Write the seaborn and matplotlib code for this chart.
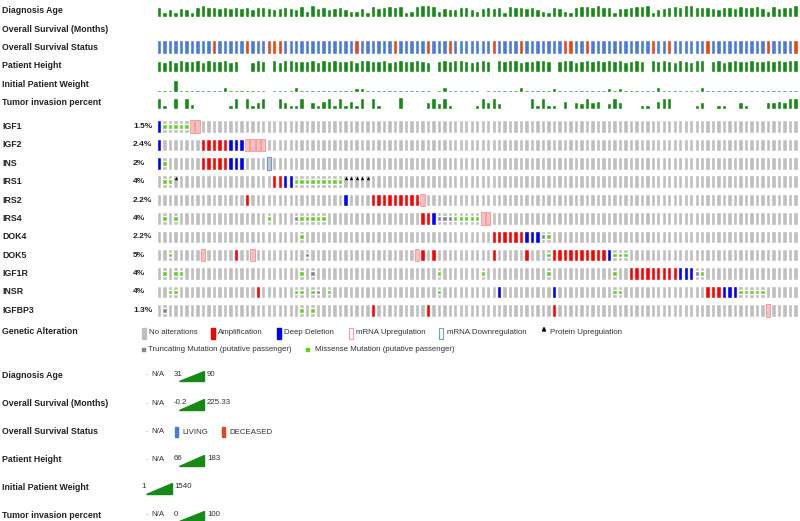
import numpy as np
import pandas as pd
import seaborn as sns
import matplotlib.pyplot as plt
from matplotlib.patches import Polygon, Rectangle

nan = np.nan
N = 117  # samples (columns)

genes = ['IGF1', 'IGF2', 'INS', 'IRS1', 'IRS2', 'IRS4', 'DOK4', 'DOK5', 'IGF1R', 'INSR', 'IGFBP3']
freqs = ['1.5%', '2.4%', '2%', '4%', '2.2%', '4%', '2.2%', '5%', '4%', '4%', '1.3%']

# alteration columns per gene
amp = {
    'IGF2': [8, 9, 10, 11, 12],
    'INS': [8, 9, 10, 11, 12],
    'IRS1': [21, 22],
    'IRS2': [16, 39, 40, 41, 42, 43, 44, 45, 46, 47],
    'IRS4': [48, 49],
    'DOK4': [61, 62, 63, 64, 65, 66],
    'DOK5': [14, 48, 50, 61, 67, 72, 73, 74, 75, 76, 77, 78, 79, 80, 81],
    'IGF1R': [86, 87, 88, 89, 90, 91, 92, 93, 94],
    'INSR': [18, 100, 101, 102],
    'IGFBP3': [39, 49, 72],
}
homdel = {
    'IGF1': [0],
    'IGF2': [0, 13, 14, 15],
    'INS': [0, 13, 14, 15],
    'IRS1': [23, 24],
    'IRS2': [34],
    'IRS4': [50],
    'DOK4': [67, 68, 69],
    'DOK5': [82],
    'IGF1R': [95, 96, 97],
    'INSR': [62, 72, 103, 104, 105],
}
mrna_up = {
    'IGF1': [6, 7],
    'IGF2': [16, 17, 18, 19],
    'IRS2': [48],
    'IRS4': [59, 60],
    'DOK5': [8, 17, 47],
    'IGFBP3': [111],
}
mrna_down = {'INS': [20]}
prot_up = {'IRS1': [3, 34, 35, 36, 37, 38]}
missense = {
    'IGF1': [1, 2, 3, 4, 5],
    'INS': [1],
    'IRS1': [1, 2, 25, 26, 27, 28, 29, 30, 31, 32, 33],
    'IRS4': [1, 3, 20, 26, 27, 28, 29, 30, 54, 55, 56, 57, 58],
    'DOK4': [26, 71],
    'DOK5': [2, 71, 83, 84, 85],
    'IGF1R': [1, 3, 4, 26, 51, 59, 71, 83, 99],
    'INSR': [2, 3, 25, 26, 28, 31, 51, 83, 84, 106, 107, 108, 109, 110],
    'IGFBP3': [26, 28],
}
trunc = {
    'IRS4': [25, 51, 52, 53],
    'DOK4': [70],
    'DOK5': [27],
    'IGF1R': [28, 98],
    'INSR': [29],
    'IGFBP3': [1],
}

# clinical tracks
diag_age = [
    72, 33, 60, 36, 62, 58, 35, 68, 85, 70,
    68, 65, 72, 62, 70, 65, 72, 58, 68, 74,
    65, 60, 62, 70, 65, 58, 78, 40, 88, 66,
    72, 55, 62, 70, 57, 42, 38, 65, 36, 82,
    62, 74, 80, 68, 80, 36, 42, 82, 86, 84,
    78, 42, 66, 60, 55, 70, 74, 58, 38, 65,
    72, 62, 70, 36, 82, 72, 68, 66, 74, 58,
    40, 33, 70, 65, 40, 31, 74, 76, 80, 72,
    88, 70, 74, 35, 62, 66, 72, 82, 76, 88,
    34, 60, 66, 74, 82, 70, 85, 88, 72, 68,
    72, 62, 58, 70, 74, 62, 78, 72, 68, 82,
    66, 38, 76, 62, 70, 72, 90]
deceased = [10, 16, 20, 21, 22, 36, 43, 49, 53, 61, 66, 74, 75, 78, 90, 93, 100, 111, 116]
height = [
    175, 160, 178, 150, 180, 166, 170, 182, 158, 178,
    175, 164, 178, 148, 172, nan, nan, 160, 180, 168,
    nan, 176, 152, 178, 180, 162, 175, 170, 178, 158,
    176, 166, 180, 170, 175, 178, 160, 176, 180, 168,
    170, 178, 150, 175, 178, 164, 170, 180, 175, 160,
    nan, 172, 178, 162, 176, 180, 168, 158, 175, 178,
    170, nan, 176, 166, 180, 178, 145, 175, 170, 178,
    180, 164, nan, 168, 176, 178, 160, 175, 180, 166,
    178, 170, 176, 162, 180, 158, 175, 178, 170, nan,
    176, 166, 180, 175, 160, 178, 172, 158, 176, 180,
    nan, 168, 178, 160, 175, 180, 166, 172, 178, 162,
    175, 180, 166, 178, 170, 176, 178]
weight = [
    230, 270, 220, 1540, 240, 260, 220, 280, 235, 230,
    255, 245, 650, 230, 270, 220, 250, 260, 230, 220,
    nan, 245, 275, 230, 220, 600, 235, 255, 230, 245,
    270, 230, 225, 250, 255, 235, 540, 560, 230, 270,
    245, 230, 255, 235, 280, 230, 245, 260, 230, 230,
    nan, 255, 580, 235, 220, 250, 230, 270, 235, 1,
    255, 245, 230, 230, 260, 245, 600, 230, 250, 235,
    270, 230, 540, 245, 230, 255, 235, 230, 270, 250,
    235, 255, 560, 245, 570, 230, 260, 230, 245, 255,
    235, 620, 230, 270, 235, 250, 230, 255, 245, 580,
    230, 260, 245, 230, 255, 235, 270, 230, 250, 245,
    255, 235, 230, 270, 245, 230, 250]
tumor = [
    90, 30, 6, 90, 6, 88, 35, nan, nan, nan,
    5, nan, nan, 30, 85, nan, 88, 30, 55, 90,
    nan, nan, 90, 55, 30, 30, 90, nan, 55, 30,
    60, 90, 30, 90, 30, 60, 30, 90, nan, 88,
    30, 6, nan, nan, 95, nan, 7, nan, nan, 55,
    90, 50, 90, 30, nan, nan, 7, 7, 30, 90,
    55, 90, 50, nan, nan, nan, 7, nan, 90, 30,
    90, 30, 30, nan, 60, nan, 55, 50, 90, 55,
    60, nan, 50, 90, 55, nan, nan, nan, 30, 30,
    nan, 60, 90, 90, nan, nan, 7, nan, 30, 55,
    7, nan, 30, 30, nan, nan, 55, 30, nan, nan,
    nan, 55, 55, 60, 55, 90, 90]

GREEN = '#158a15'
GRAY = '#bfbfbf'
BW = 0.8
W, H = 800, 521

sns.set_theme(style='white')
plt.rcParams['font.family'] = ['Liberation Sans', 'DejaVu Sans']

fig = plt.figure(figsize=(8, 5.21), dpi=100)


def fx(x):
    return x / W


def fy(y):
    return 1 - y / H


def rect_px(x0, y0, x1, y1):
    return [fx(x0), fy(y1), (x1 - x0) / W, (y1 - y0) / H]


X0, X1 = 156.3, 798.2


def clinical_track(y0, y1, values, ymax, na_marks=False):
    ax = fig.add_axes(rect_px(X0, y0, X1, y1))
    df = pd.DataFrame({'sample': np.arange(N), 'value': values})
    sns.barplot(data=df.dropna(), x='sample', y='value', color=GREEN, saturation=1,
                width=BW, native_scale=True, errorbar=None, ax=ax)
    if na_marks:
        na = df[df['value'].isna()]['sample']
        ax.bar(na, ymax * 0.07, bottom=ymax * 0.42, width=BW, color='#d6d6d6')
    ax.set_xlim(-0.5, N - 0.5)
    ax.set_ylim(0, ymax)
    ax.axis('off')
    return ax


clinical_track(4.5, 16.5, diag_age, 90)
clinical_track(80, 92, weight, 1540)
clinical_track(60, 72, height, 183, na_marks=True)
clinical_track(96.5, 108.5, tumor, 100)

# survival status
ax_s = fig.add_axes(rect_px(X0, 40.5, X1, 53.5))
status = pd.DataFrame({'sample': np.arange(N), 'one': 1,
                       'status': ['DECEASED' if i in deceased else 'LIVING' for i in range(N)]})
sns.barplot(data=status, x='sample', y='one', hue='status', dodge=False, saturation=1,
            palette={'LIVING': '#4a7bd8', 'DECEASED': '#e6461c'}, width=BW,
            native_scale=True, errorbar=None, legend=False, ax=ax_s)
ax_s.set_xlim(-0.5, N - 0.5)
ax_s.set_ylim(0, 1)
ax_s.axis('off')

# oncoprint matrix
ax = fig.add_axes(rect_px(X0, 117.3, X1, 319.5))
cols = np.arange(N)
BH = 0.68
for r, g in enumerate(genes):
    ax.bar(cols, BH, bottom=r - BH / 2, width=BW, color=GRAY)
    if g in mrna_up:
        ax.bar(mrna_up[g], BH, bottom=r - BH / 2, width=BW, facecolor='#f2c2c2',
               edgecolor='#ff9a9a', linewidth=0.7)
    if g in mrna_down:
        ax.bar(mrna_down[g], BH, bottom=r - BH / 2, width=BW, facecolor='#c8c8c8',
               edgecolor='#6f9fd0', linewidth=0.9)
    if g in amp:
        ax.bar(amp[g], BH, bottom=r - BH / 2, width=BW, color='#ff0000')
    if g in homdel:
        ax.bar(homdel[g], BH, bottom=r - BH / 2, width=BW, color='#0000ff')
    if g in missense:
        ax.bar(missense[g], 0.25, bottom=r - 0.125, width=BW, color='#5fd21e')
    if g in trunc:
        ax.bar(trunc[g], 0.25, bottom=r - 0.125, width=BW, color='#7a8898')
    if g in prot_up:
        ax.scatter(prot_up[g], [r - 0.22] * len(prot_up[g]), marker='^', s=6,
                   color='black', linewidths=0)
ax.set_xlim(-0.5, N - 0.5)
ax.set_ylim(len(genes) - 0.5, -0.5)
ax.axis('off')

# labels
bold = dict(fontsize=6.3, fontweight='bold', va='center', color='#222222')
track_labels = ['Diagnosis Age', 'Overall Survival (Months)', 'Overall Survival Status',
                'Patient Height', 'Initial Patient Weight', 'Tumor invasion percent']
for lab, y in zip(track_labels, [10.7, 29.3, 47.7, 65.7, 84.3, 102.7]):
    fig.text(fx(2), fy(y), lab, **bold)
for r, (g, f) in enumerate(zip(genes, freqs)):
    y = 126.5 + r * 18.38
    fig.text(fx(2), fy(y), g, **bold)
    fig.text(fx(133), fy(y), f, fontsize=6, fontweight='bold', va='center', color='#222222')

# genetic alteration legend
fig.text(fx(2), fy(331), 'Genetic Alteration', **bold)
norm = dict(fontsize=5.7, va='center', color='#333333')


def box(x0, y0, x1, y1, **kw):
    fig.add_artist(Rectangle((fx(x0), fy(y1)), (x1 - x0) / W, (y1 - y0) / H,
                             transform=fig.transFigure, **kw))


box(142, 327.5, 146, 338.5, color=GRAY)
fig.text(fx(149), fy(333), 'No alterations', **norm)
box(211, 327.5, 215, 338.5, color='#ff0000')
fig.text(fx(218), fy(333), 'Amplification', **norm)
box(277, 327.5, 281, 338.5, color='#0000ff')
fig.text(fx(284), fy(333), 'Deep Deletion', **norm)
box(348.5, 327.5, 352.5, 338.5, facecolor='white', edgecolor='#ff9a9a', linewidth=0.8)
fig.text(fx(356), fy(333), 'mRNA Upregulation', **norm)
box(439.5, 327.5, 443.5, 338.5, facecolor='white', edgecolor='#6f9fd0', linewidth=0.8)
fig.text(fx(447), fy(333), 'mRNA Downregulation', **norm)
fig.add_artist(Polygon([[fx(542.5), fy(331)], [fx(545.5), fy(331)], [fx(544), fy(327.5)]],
                       closed=True, transform=fig.transFigure, color='black'))
fig.text(fx(550), fy(333), 'Protein Upregulation', **norm)
box(142, 347.5, 145, 350.5, color='#7a8898')
fig.text(fx(148), fy(349.5), 'Truncating Mutation (putative passenger)', **norm)
box(306, 347.5, 309, 350.5, color='#5fd21e')
fig.text(fx(315), fy(349.5), 'Missense Mutation (putative passenger)', **norm)


# clinical legends
def ramp(x0, x1, ybot, ytop):
    fig.add_artist(Polygon([[fx(x0), fy(ybot)], [fx(x1), fy(ybot)], [fx(x1), fy(ytop)]],
                           closed=True, transform=fig.transFigure, color=GREEN))


def na(y):
    fig.text(fx(146), fy(y), '-', fontsize=5.7, va='center', color='#aaaaaa')
    fig.text(fx(151.5), fy(y), 'N/A', **norm)


legend_rows = [('Diagnosis Age', 375, '31', '90'),
               ('Overall Survival (Months)', 403.5, '-0.2', '225.33'),
               ('Patient Height', 459.5, '66', '183'),
               ('Tumor invasion percent', 515, '0', '100')]
for lab, y, lo, hi in legend_rows:
    fig.text(fx(2), fy(y), lab, **bold)
    na(y)
    fig.text(fx(174), fy(y - 1), lo, **norm)
    ramp(178.5, 204, y + 6, y - 4.5)
    fig.text(fx(207), fy(y - 1), hi, **norm)

fig.text(fx(2), fy(431.7), 'Overall Survival Status', **bold)
na(431.7)
box(175, 426.7, 178.3, 437.3, color='#4a7bd8')
fig.text(fx(182), fy(432), 'LIVING', **norm)
box(221.7, 426.7, 225, 437.3, color='#e6461c')
fig.text(fx(229), fy(432), 'DECEASED', **norm)

fig.text(fx(2), fy(487.7), 'Initial Patient Weight', **bold)
fig.text(fx(141), fy(486.5), '1', **norm)
ramp(145.5, 171.5, 493.5, 482.5)
fig.text(fx(174), fy(486.5), '1540', **norm)

plt.savefig('out.png', dpi=100)
